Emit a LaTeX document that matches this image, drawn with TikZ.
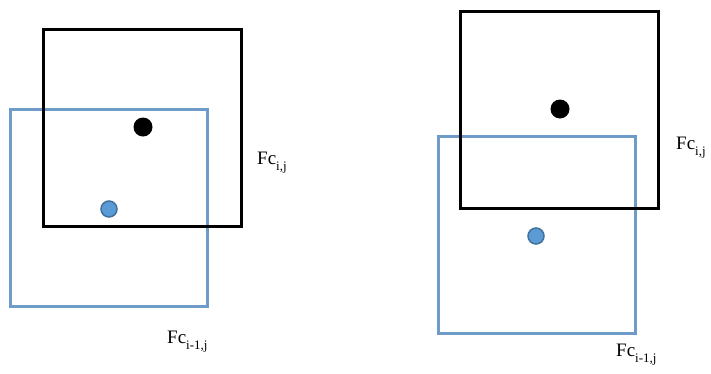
\documentclass[tikz,border=0pt]{standalone}
\usepackage{amsmath,amssymb}
\usepackage{fontspec}
\setmainfont{Liberation Serif}
\usepackage{tikz}
\usetikzlibrary{positioning}
\usepackage{xcolor}
\definecolor{frameblue}{RGB}{110,155,200}
\definecolor{dotblue}{RGB}{91,155,213}
\definecolor{dotedge}{RGB}{65,113,156}
\newcommand{\fcsub}[1]{Fc\raisebox{-0.33em}{\fontsize{13}{14}\selectfont #1}}

\begin{document}
\begin{tikzpicture}[x=1pt,y=-1pt,
  curframe/.style={draw=black,line width=3.2pt,minimum width=198pt,minimum height=197pt,inner sep=0pt},
  prevframe/.style={draw=frameblue,line width=3pt,minimum width=197pt,minimum height=197pt,inner sep=0pt},
  curdot/.style={circle,fill=black,minimum size=19pt,inner sep=0pt},
  prevdot/.style={circle,fill=dotblue,draw=dotedge,line width=1.5pt,minimum size=16pt,inner sep=0pt},
  lbl/.style={anchor=west,inner sep=0pt,font=\fontsize{19}{22}\selectfont}]
\useasboundingbox (0,0) rectangle (711,373);
% left case
\node[prevframe] (pl) at (109,208) {};
\node[curframe] (cl) at (142.5,128) {};
\node[curdot] (dcl) at (143,127) {};
\node[prevdot] (dpl) at (109,209) {};
\node[lbl] (lcl) at (257,163) {\fcsub{i,j}};
\node[lbl] (lpl) at (167,342) {\fcsub{i-1,j}};
% right case
\node[prevframe] (pr) at (537,234.5) {};
\node[curframe] (cr) at (559.5,110) {};
\node[curdot] (dcr) at (560,109) {};
\node[prevdot] (dpr) at (536,236) {};
\node[lbl] (lcr) at (676,148) {\fcsub{i,j}};
\node[lbl] (lpr) at (616,355) {\fcsub{i-1,j}};
\end{tikzpicture}
\end{document}
